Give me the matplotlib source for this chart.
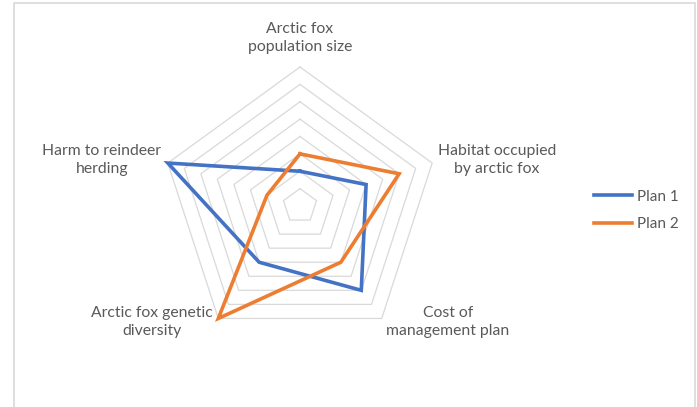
import numpy as np
import matplotlib
matplotlib.use("Agg")
import matplotlib.pyplot as plt
from matplotlib.patches import Rectangle

categories = ["Arctic fox\npopulation size", "Habitat occupied\nby arctic fox",
              "Cost of\nmanagement plan", "Arctic fox genetic\ndiversity",
              "Harm to reindeer\nherding"]
plan1 = [2, 4, 6, 4, 8]
plan2 = [3, 6, 4, 8, 2]
series_names = ["Plan 1", "Plan 2"]
grid_levels = [1, 2, 3, 4, 5, 6, 7, 8]

W, H = 697, 407
cx, cy = 300, 206          # centre in pixels (from top-left)
u = 139 / 8                # pixels per unit

plt.rcParams['font.family'] = ['Lato', 'DejaVu Sans']
fig = plt.figure(figsize=(W / 100, H / 100), dpi=100)
ax = fig.add_axes([0, 0, 1, 1])
ax.set_xlim(-cx / u, (W - cx) / u)
ax.set_ylim(-(H - cy) / u, cy / u)
ax.axis("off")

n = len(categories)
ang = np.pi / 2 - np.arange(n) * 2 * np.pi / n
ang_c = np.append(ang, ang[0])

for lv in grid_levels:
    ax.plot(lv * np.cos(ang_c), lv * np.sin(ang_c), color="#d9d9d9", lw=0.9, zorder=1)

colors = ["#4472C4", "#ED7D31"]
for vals, col, name in zip([plan1, plan2], colors, series_names):
    v = np.append(vals, vals[0])
    ax.plot(v * np.cos(ang_c), v * np.sin(ang_c), color=col, lw=2.6,
            solid_joinstyle="miter", zorder=3, label=name)

# label positions (pixels)
lab_px = [(300, 38), (497, 160), (448, 322), (152, 322), (102, 160)]
for lab, (px, py) in zip(categories, lab_px):
    ax.text((px - cx) / u, (cy - py) / u, lab, ha="center", va="center",
            fontsize=11.3, color="#595959", linespacing=1.3)

leg = ax.legend(loc="upper left", bbox_to_anchor=(580 / W, 1 - 176 / H),
                frameon=False, fontsize=11, handlelength=2.5, handletextpad=0.35,
                labelspacing=0.9, labelcolor="#595959")

fig.patches.append(Rectangle((14 / W, -0.05), (695 - 14) / W, 1.05 - 3 / H,
                             transform=fig.transFigure, fill=False,
                             edgecolor="#d9d9d9", lw=1.2))

fig.savefig("out.png", dpi=100, facecolor="white")
